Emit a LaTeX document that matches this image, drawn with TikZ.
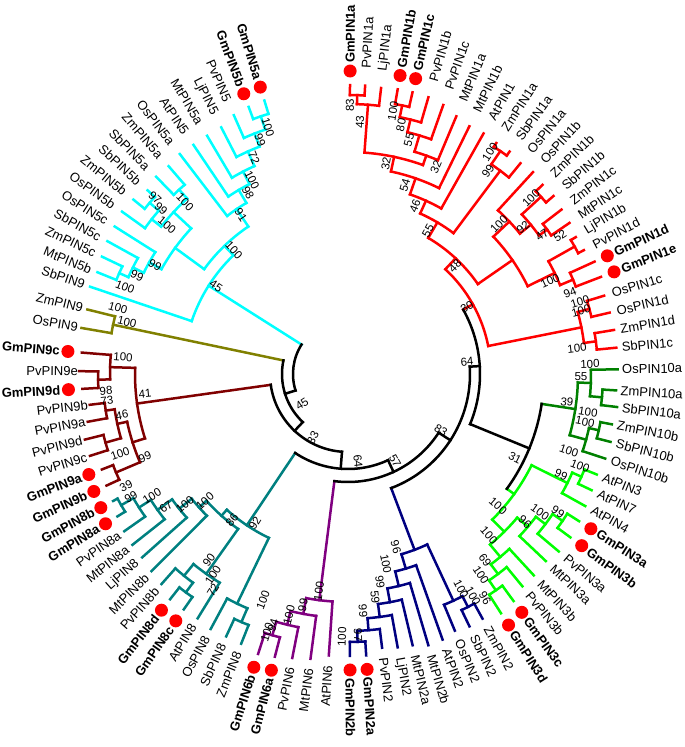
\documentclass[tikz,border=0pt]{standalone}
\usepackage{fontspec}
\setmainfont{Liberation Sans}
\definecolor{cRed}{RGB}{255,0,0}
\definecolor{cDG}{RGB}{0,128,0}
\definecolor{cLG}{RGB}{0,255,0}
\definecolor{cNV}{RGB}{0,0,128}
\definecolor{cPU}{RGB}{128,0,128}
\definecolor{cTL}{RGB}{0,128,128}
\definecolor{cMR}{RGB}{128,0,0}
\definecolor{cOL}{RGB}{128,128,0}
\definecolor{cCY}{RGB}{0,255,255}
\definecolor{dotc}{RGB}{255,0,0}
\tikzset{
  br/.style={line width=2.5pt,line cap=rect},
  lf/.style={inner sep=0pt,font=\fontsize{13}{13}\selectfont},
  lfb/.style={inner sep=0pt,font=\fontsize{13}{13}\selectfont\bfseries},
  bsl/.style={inner sep=0pt,font=\fontsize{11.5}{11.5}\selectfont},
}
% leaf: name, angle, label radius, gm flag, colour
\newcommand\LF[5]{%
  \pgfmathsetmacro\tla{#2}%
  \ifnum#4=1 \pgfmathsetmacro\tlt{#3-22}\pgfmathsetmacro\tld{#3-8}%
  \else \pgfmathsetmacro\tlt{#3-(2.5+1.5*cos(#2)+3.5*sin(#2)+11*abs(sin(#2)))}\fi
  \expandafter\xdef\csname A#1\endcsname{\tla}%
  \expandafter\xdef\csname R#1\endcsname{\tlt}%
  \expandafter\xdef\csname C#1\endcsname{#5}%
  \ifdim #2pt>-90pt \def\tlrot{#2}\def\tlanc{west}%
  \else \pgfmathsetmacro\tlrot{#2+180}\def\tlanc{east}\fi
  \ifnum#4=1
    \fill[dotc] (\tla:\tld pt) circle (6.5pt);
    \node[lfb,rotate=\tlrot,anchor=\tlanc] (L#1) at (\tla:#3pt) {#1};
  \else
    \node[lf,rotate=\tlrot,anchor=\tlanc] (L#1) at (\tla:#3pt) {#1};
  \fi}
% internal node: name, child1, child2, radius, colour
\newcommand\IN[5]{%
  \edef\tia{\csname A#2\endcsname}\edef\tib{\csname A#3\endcsname}%
  \edef\tira{\csname R#2\endcsname}\edef\tirb{\csname R#3\endcsname}%
  \edef\tica{\csname C#2\endcsname}\edef\ticb{\csname C#3\endcsname}%
  \pgfmathsetmacro\tim{(\tia+\tib)/2}%
  \expandafter\xdef\csname A#1\endcsname{\tim}%
  \expandafter\xdef\csname R#1\endcsname{#4}%
  \expandafter\xdef\csname C#1\endcsname{#5}%
  \draw[br,draw=\tica] (\tia:#4pt) -- (\tia:\tira pt);
  \draw[br,draw=\ticb] (\tib:#4pt) -- (\tib:\tirb pt);
  \draw[br,draw=#5] (\tia:#4pt) arc[start angle=\tia,end angle=\tib,radius=#4pt];}
% bootstrap label at image pixel position
\newcommand\BS[3]{%
  \pgfmathsetmacro\tbx{#1-348}\pgfmathsetmacro\tby{374-#2}%
  \pgfmathsetmacro\tba{atan2(\tby,\tbx)}%
  \pgfmathsetmacro\tbr{abs(\tba)>90 ? \tba+180 : \tba}%
  \node[bsl,rotate=\tbr] at (\tbx pt,\tby pt) {#3};}
\begin{document}
\begin{tikzpicture}
\useasboundingbox (-348pt,-373pt) rectangle (337pt,374pt);
% ---- leaves
\LF{GmPIN1a}{89.6}{311}{1}{cRed}
\LF{PvPIN1a}{86.6}{306}{0}{cRed}
\LF{LjPIN1a}{83.4}{305}{0}{cRed}
\LF{GmPIN1b}{80.1}{311}{1}{cRed}
\LF{GmPIN1c}{77.1}{311}{1}{cRed}
\LF{PvPIN1b}{73.8}{305}{0}{cRed}
\LF{PvPIN1c}{70.5}{302}{0}{cRed}
\LF{MtPIN1a}{67.2}{296}{0}{cRed}
\LF{MtPIN1b}{63.9}{292}{0}{cRed}
\LF{AtPIN1}{60.6}{292}{0}{cRed}
\LF{ZmPIN1a}{57.3}{290}{0}{cRed}
\LF{SbPIN1a}{54.0}{290}{0}{cRed}
\LF{OsPIN1a}{50.7}{287}{0}{cRed}
\LF{OsPIN1b}{47.5}{288}{0}{cRed}
\LF{ZmPIN1b}{44.2}{285}{0}{cRed}
\LF{SbPIN1b}{40.9}{285}{0}{cRed}
\LF{ZmPIN1c}{37.6}{282}{0}{cRed}
\LF{MtPIN1c}{34.3}{280}{0}{cRed}
\LF{LjPIN1b}{31.0}{277}{0}{cRed}
\LF{PvPIN1d}{27.7}{277}{0}{cRed}
\LF{GmPIN1d}{24.5}{293}{1}{cRed}
\LF{GmPIN1e}{21.0}{293}{1}{cRed}
\LF{OsPIN1c}{17.0}{276}{0}{cRed}
\LF{OsPIN1d}{13.2}{276}{0}{cRed}
\LF{ZmPIN1d}{9.4}{276}{0}{cRed}
\LF{SbPIN1c}{5.6}{275}{0}{cRed}
\LF{OsPIN10a}{1.0}{274}{0}{cDG}
\LF{ZmPIN10a}{-3.5}{273}{0}{cDG}
\LF{SbPIN10a}{-7.0}{276}{0}{cDG}
\LF{ZmPIN10b}{-10.8}{274}{0}{cDG}
\LF{SbPIN10b}{-14.5}{277}{0}{cDG}
\LF{OsPIN10b}{-18.2}{277}{0}{cDG}
\LF{AtPIN3}{-22.0}{275}{0}{cLG}
\LF{AtPIN7}{-25.5}{277}{0}{cLG}
\LF{AtPIN4}{-29.1}{279}{0}{cLG}
\LF{GmPIN3a}{-32.5}{296}{1}{cLG}
\LF{GmPIN3b}{-36.3}{298}{1}{cLG}
\LF{PvPIN3a}{-40.1}{284}{0}{cLG}
\LF{MtPIN3a}{-43.4}{281}{0}{cLG}
\LF{MtPIN3b}{-47.3}{283}{0}{cLG}
\LF{PvPIN3b}{-50.6}{284}{0}{cLG}
\LF{GmPIN3c}{-53.9}{303}{1}{cLG}
\LF{GmPIN3d}{-57.4}{306}{1}{cLG}
\LF{ZmPIN2}{-61.2}{289}{0}{cNV}
\LF{SbPIN2}{-64.3}{290}{0}{cNV}
\LF{OsPIN2}{-67.4}{288}{0}{cNV}
\LF{AtPIN2}{-70.4}{292}{0}{cNV}
\LF{MtPIN2b}{-73.5}{293}{0}{cNV}
\LF{MtPIN2a}{-76.6}{289}{0}{cNV}
\LF{LjPIN2}{-79.7}{288}{0}{cNV}
\LF{PvPIN2}{-82.9}{286}{0}{cNV}
\LF{GmPIN2a}{-86.3}{304}{1}{cNV}
\LF{GmPIN2b}{-89.6}{304}{1}{cNV}
\LF{AtPIN6}{-93.9}{292}{0}{cPU}
\LF{MtPIN6}{-97.5}{297}{0}{cPU}
\LF{PvPIN6}{-101.1}{299}{0}{cPU}
\LF{GmPIN6a}{-104.5}{314}{1}{cPU}
\LF{GmPIN6b}{-107.8}{316}{1}{cPU}
\LF{ZmPIN8}{-111.6}{299}{0}{cTL}
\LF{SbPIN8}{-114.9}{298}{0}{cTL}
\LF{OsPIN8}{-118.3}{298}{0}{cTL}
\LF{AtPIN8}{-121.6}{295}{0}{cTL}
\LF{GmPIN8c}{-124.9}{309}{1}{cTL}
\LF{GmPIN8d}{-128.3}{309}{1}{cTL}
\LF{PvPIN8b}{-131.6}{288}{0}{cTL}
\LF{MtPIN8b}{-134.9}{285}{0}{cTL}
\LF{LjPIN8}{-138.3}{282}{0}{cTL}
\LF{MtPIN8a}{-141.6}{281}{0}{cTL}
\LF{PvPIN8a}{-144.9}{279}{0}{cTL}
\LF{GmPIN8a}{-148.3}{293}{1}{cTL}
\LF{GmPIN8b}{-151.6}{289}{1}{cTL}
\LF{GmPIN9b}{-155.2}{288}{1}{cMR}
\LF{GmPIN9a}{-158.8}{286}{1}{cMR}
\LF{PvPIN9c}{-162.4}{274}{0}{cMR}
\LF{PvPIN9d}{-166.0}{274}{0}{cMR}
\LF{PvPIN9a}{-169.6}{267}{0}{cMR}
\LF{PvPIN9b}{-173.2}{262}{0}{cMR}
\LF{GmPIN9d}{-176.8}{288}{1}{cMR}
\LF{PvPIN9e}{-180.6}{270}{0}{cMR}
\LF{GmPIN9c}{-184.6}{289}{1}{cMR}
\LF{OsPIN9}{-189.8}{274}{0}{cOL}
\LF{ZmPIN9}{-193.9}{273}{0}{cOL}
\LF{SbPIN9}{-198.7}{278}{0}{cCY}
\LF{MtPIN5b}{-202.1}{277}{0}{cCY}
\LF{ZmPIN5c}{-205.5}{280}{0}{cCY}
\LF{SbPIN5c}{-208.9}{283}{0}{cCY}
\LF{OsPIN5c}{-212.3}{285}{0}{cCY}
\LF{OsPIN5b}{-215.7}{288}{0}{cCY}
\LF{ZmPIN5b}{-219.1}{287}{0}{cCY}
\LF{SbPIN5b}{-222.5}{283}{0}{cCY}
\LF{SbPIN5a}{-225.8}{287}{0}{cCY}
\LF{ZmPIN5a}{-229.2}{287}{0}{cCY}
\LF{OsPIN5a}{-232.6}{290}{0}{cCY}
\LF{AtPIN5}{-236.0}{290}{0}{cCY}
\LF{MtPIN5a}{-239.4}{291}{0}{cCY}
\LF{LjPIN5}{-242.8}{292}{0}{cCY}
\LF{PvPIN5}{-246.2}{298}{0}{cCY}
\LF{GmPIN5b}{-249.6}{307}{1}{cCY}
\LF{GmPIN5a}{-253.0}{308}{1}{cCY}
% ---- red clade
\IN{a1}{GmPIN1a}{PvPIN1a}{279}{cRed}
\IN{a2}{a1}{LjPIN1a}{270}{cRed}
\IN{b1}{GmPIN1b}{GmPIN1c}{274}{cRed}
\IN{b2}{b1}{PvPIN1b}{262}{cRed}
\IN{b3}{b2}{PvPIN1c}{249}{cRed}
\IN{b4}{b3}{MtPIN1a}{232}{cRed}
\IN{c1}{a2}{b4}{222}{cRed}
\IN{c2}{c1}{MtPIN1b}{207}{cRed}
\IN{c3}{c2}{AtPIN1}{190}{cRed}
\IN{m1}{ZmPIN1a}{SbPIN1a}{270}{cRed}
\IN{m2}{m1}{OsPIN1a}{254}{cRed}
\IN{c4}{c3}{m2}{176}{cRed}
\IN{d1}{ZmPIN1b}{SbPIN1b}{262}{cRed}
\IN{d2}{ZmPIN1c}{MtPIN1c}{246}{cRed}
\IN{d3}{d1}{d2}{236}{cRed}
\IN{d4}{OsPIN1b}{d3}{222}{cRed}
\IN{e1}{LjPIN1b}{PvPIN1d}{260}{cRed}
\IN{e2}{GmPIN1d}{GmPIN1e}{244}{cRed}
\IN{e3}{e1}{e2}{230}{cRed}
\IN{f1}{d4}{e3}{200}{cRed}
\IN{c5}{c4}{f1}{158}{cRed}
\IN{g1}{OsPIN1c}{OsPIN1d}{250}{cRed}
\IN{g2}{ZmPIN1d}{SbPIN1c}{250}{cRed}
\IN{g3}{g1}{g2}{238}{cRed}
\IN{R30}{c5}{g3}{143}{cRed}
% ---- PIN10 / PIN3
\IN{dg1}{ZmPIN10a}{SbPIN10a}{255}{cDG}
\IN{dg2}{OsPIN10a}{dg1}{243}{cDG}
\IN{dg3}{ZmPIN10b}{SbPIN10b}{257}{cDG}
\IN{dg4}{dg3}{OsPIN10b}{247}{cDG}
\IN{dg5}{dg2}{dg4}{230}{cDG}
\IN{gr1}{AtPIN3}{AtPIN7}{255}{cLG}
\IN{gr2}{gr1}{AtPIN4}{245}{cLG}
\IN{gr3}{GmPIN3a}{GmPIN3b}{260}{cLG}
\IN{gr4}{gr3}{PvPIN3a}{248}{cLG}
\IN{gr5}{gr4}{MtPIN3a}{236}{cLG}
\IN{gr6}{GmPIN3c}{GmPIN3d}{262}{cLG}
\IN{gr7}{PvPIN3b}{gr6}{250}{cLG}
\IN{gr8}{MtPIN3b}{gr7}{238}{cLG}
\IN{gr9}{gr5}{gr8}{222}{cLG}
\IN{gr10}{gr2}{gr9}{205}{cLG}
\IN{N31}{dg5}{gr10}{196}{black}
% ---- PIN2
\IN{bm1}{ZmPIN2}{SbPIN2}{262}{cNV}
\IN{bm2}{bm1}{OsPIN2}{250}{cNV}
\IN{bd1}{GmPIN2a}{GmPIN2b}{268}{cNV}
\IN{bd2}{PvPIN2}{bd1}{257}{cNV}
\IN{bd3}{LjPIN2}{bd2}{245}{cNV}
\IN{bd4}{MtPIN2a}{bd3}{232}{cNV}
\IN{bd5}{MtPIN2b}{bd4}{218}{cNV}
\IN{bd6}{AtPIN2}{bd5}{203}{cNV}
\IN{broot}{bm2}{bd6}{188}{cNV}
% ---- PIN6
\IN{p1}{GmPIN6a}{GmPIN6b}{272}{cPU}
\IN{p2}{PvPIN6}{p1}{258}{cPU}
\IN{p3}{MtPIN6}{p2}{244}{cPU}
\IN{p4}{AtPIN6}{p3}{228}{cPU}
% ---- PIN8
\IN{t1}{GmPIN8a}{GmPIN8b}{262}{cTL}
\IN{t2}{PvPIN8a}{t1}{248}{cTL}
\IN{t3}{MtPIN8a}{t2}{234}{cTL}
\IN{t4}{LjPIN8}{t3}{216}{cTL}
\IN{t5}{MtPIN8b}{t4}{200}{cTL}
\IN{t6}{GmPIN8c}{GmPIN8d}{272}{cTL}
\IN{t7}{t6}{PvPIN8b}{260}{cTL}
\IN{t8}{AtPIN8}{t7}{245}{cTL}
\IN{t9}{t8}{t5}{190}{cTL}
\IN{t10}{ZmPIN8}{SbPIN8}{270}{cTL}
\IN{t11}{t10}{OsPIN8}{255}{cTL}
\IN{t12}{t11}{t9}{182}{cTL}
% ---- PIN9 dicot
\IN{dr1}{PvPIN9a}{PvPIN9b}{245}{cMR}
\IN{dr2}{PvPIN9c}{PvPIN9d}{252}{cMR}
\IN{dr3}{dr2}{dr1}{236}{cMR}
\IN{dr4}{GmPIN9b}{GmPIN9a}{252}{cMR}
\IN{dr5}{dr4}{dr3}{226}{cMR}
\IN{dr6}{GmPIN9d}{PvPIN9e}{250}{cMR}
\IN{dr7}{dr6}{GmPIN9c}{238}{cMR}
\IN{dr8}{dr5}{dr7}{213}{cMR}
% ---- PIN9 monocot
\IN{o1}{OsPIN9}{ZmPIN9}{240}{cOL}
% ---- PIN5
\IN{cy1}{GmPIN5b}{GmPIN5a}{272}{cCY}
\IN{cy2}{PvPIN5}{cy1}{258}{cCY}
\IN{cy3}{LjPIN5}{cy2}{244}{cCY}
\IN{cy4}{MtPIN5a}{cy3}{228}{cCY}
\IN{cy5}{AtPIN5}{cy4}{214}{cCY}
\IN{cy6}{OsPIN5a}{cy5}{199}{cCY}
\IN{y1}{SbPIN5a}{ZmPIN5a}{250}{cCY}
\IN{y2}{ZmPIN5b}{SbPIN5b}{262}{cCY}
\IN{y3}{OsPIN5b}{y2}{250}{cCY}
\IN{y4}{y3}{y1}{238}{cCY}
\IN{y5}{MtPIN5b}{ZmPIN5c}{250}{cCY}
\IN{y6}{y5}{SbPIN5c}{240}{cCY}
\IN{y7}{y6}{OsPIN5c}{228}{cCY}
\IN{y8}{y7}{y4}{214}{cCY}
\IN{c100}{y8}{cy6}{178}{cCY}
\IN{croot}{SbPIN9}{c100}{165}{cCY}
% ---- backbone
\IN{K64r}{R30}{N31}{132}{black}
\IN{K83}{K64r}{broot}{122}{black}
\IN{K57}{K83}{p4}{108}{black}
\IN{K64b}{K57}{t12}{95}{black}
\IN{K33}{K64b}{dr8}{78}{black}
\IN{K45}{K33}{o1}{66}{black}
\IN{ROOT}{K45}{croot}{55}{black}
% ---- bootstrap values
\BS{350}{105}{83}\BS{360}{122}{43}\BS{393}{111}{100}\BS{401}{125}{80}
\BS{409}{140}{55}\BS{386}{164}{32}\BS{436}{167}{32}\BS{405}{185}{54}
\BS{415}{206}{46}\BS{428}{231}{55}\BS{455}{266}{48}\BS{467}{307}{30}
\BS{490}{152}{100}\BS{488}{171}{99}\BS{531}{198}{100}\BS{523}{227}{92}
\BS{542}{235}{47}\BS{499}{224}{100}\BS{560}{236}{52}\BS{550}{281}{100}
\BS{570}{293}{94}\BS{580}{302}{100}\BS{581}{311}{100}\BS{577}{348}{100}
\BS{590}{364}{100}\BS{467}{362}{64}
\BS{581}{377}{55}\BS{567}{402}{39}\BS{588}{412}{100}\BS{585}{422}{100}
\BS{569}{451}{100}\BS{515}{458}{31}
\BS{580}{466}{100}\BS{561}{475}{99}\BS{498}{506}{100}\BS{558}{512}{99}
\BS{540}{512}{100}\BS{525}{522}{96}\BS{489}{535}{100}\BS{485}{560}{69}
\BS{481}{575}{100}\BS{461}{589}{100}\BS{473}{596}{100}\BS{485}{598}{96}
\BS{441}{430}{83}\BS{395}{461}{57}\BS{358}{461}{64}\BS{313}{438}{33}
\BS{302}{404}{45}
\BS{396}{547}{96}\BS{386}{564}{100}\BS{380}{582}{99}\BS{375}{597}{59}
\BS{363}{611}{99}\BS{358}{635}{97}\BS{342}{637}{100}
\BS{319}{591}{100}\BS{303}{605}{99}\BS{289}{615}{100}\BS{273}{625}{94}
\BS{267}{632}{100}
\BS{263}{600}{100}\BS{209}{560}{90}\BS{213}{575}{100}\BS{213}{590}{72}
\BS{255}{523}{92}\BS{232}{520}{86}
\BS{205}{501}{100}\BS{185}{504}{100}\BS{166}{507}{67}\BS{152}{496}{100}
\BS{131}{497}{99}
\BS{126}{486}{39}\BS{120}{454}{100}\BS{145}{457}{99}\BS{122}{415}{46}
\BS{107}{401}{73}\BS{106}{391}{98}\BS{145}{394}{41}\BS{123}{357}{100}
\BS{118}{308}{100}\BS{127}{322}{100}
\BS{268}{127}{100}\BS{260}{140}{99}\BS{254}{158}{72}\BS{252}{180}{100}
\BS{248}{193}{98}\BS{241}{215}{91}\BS{234}{250}{100}\BS{185}{202}{100}
\BS{155}{198}{97}\BS{161}{209}{99}\BS{167}{225}{100}\BS{155}{265}{99}
\BS{137}{276}{99}\BS{125}{287}{100}\BS{216}{286}{45}
\end{tikzpicture}
\end{document}
